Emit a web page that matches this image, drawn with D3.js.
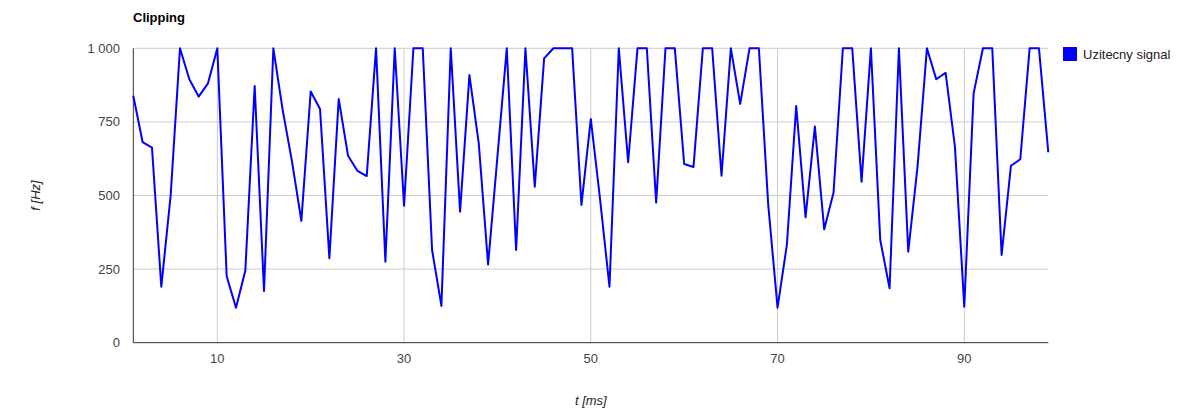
<!DOCTYPE html>
<html><head><meta charset="utf-8">
<script src="https://cdn.jsdelivr.net/npm/d3@7"></script>
<style>
body{margin:0;background:#fff;}
svg{font-family:Arial,"Liberation Sans",sans-serif;}
</style></head>
<body><svg id="chart" width="1183" height="410"></svg>
<script>
const xValues = d3.range(1, 100);
const signal = [839,681,663,190,500,1000,895,836,881,1000,
226,119,245,872,176,1000,790,615,414,853,
794,287,828,635,584,566,1000,275,1000,465,
1000,1000,315,125,1000,445,909,677,266,632,
1000,315,1000,530,966,1000,1000,1000,468,760,
485,190,1000,613,1000,1000,476,1000,1000,607,
597,1000,1000,567,1000,811,1000,1000,470,119,
332,804,426,734,385,510,1000,1000,547,1000,
349,185,1000,309,600,1000,895,917,666,122,
847,1000,1000,298,601,623,1000,1000,647];
const xTicks = [10,30,50,70,90];
const yTicks = [0,250,500,750,1000];
const title = "Clipping";
const seriesName = "Uzitecny signal";
const xTitle = "t [ms]";
const yTitle = "f [Hz]";

const svg = d3.select("#chart");
const mL = 133.3, mR = 1048.3, mT = 48.3, mB = 342.7;
const x = d3.scaleLinear().domain([1, 99]).range([mL, mR]);
const y = d3.scaleLinear().domain([0, 1000]).range([mB, mT]);
const fmt = d3.formatLocale({decimal:",", thousands:"\u00a0", grouping:[3], currency:["",""]}).format(",d");

// gridlines
svg.append("g").selectAll("line").data(yTicks.filter(d=>d>0)).join("line")
  .attr("x1", mL).attr("x2", mR).attr("y1", d=>y(d)).attr("y2", d=>y(d))
  .attr("stroke", "#cccccc").attr("stroke-width", 1);
svg.append("g").selectAll("line").data(xTicks).join("line")
  .attr("x1", d=>x(d)).attr("x2", d=>x(d)).attr("y1", mT).attr("y2", mB)
  .attr("stroke", "#cccccc").attr("stroke-width", 1);

// axes lines
svg.append("line").attr("x1", mL).attr("x2", mR).attr("y1", mB).attr("y2", mB)
  .attr("stroke", "#333").attr("stroke-width", 1);
svg.append("line").attr("x1", mL).attr("x2", mL).attr("y1", mT).attr("y2", mB)
  .attr("stroke", "#333").attr("stroke-width", 1);

// y labels
svg.append("g").selectAll("text").data(yTicks).join("text")
  .attr("x", 120).attr("y", d=>y(d)).attr("dy", "0.35em")
  .attr("text-anchor", "end").attr("font-size", 13).attr("fill", "#444")
  .text(d=>fmt(d));
// x labels
svg.append("g").selectAll("text").data(xTicks).join("text")
  .attr("x", d=>x(d)).attr("y", 363)
  .attr("text-anchor", "middle").attr("font-size", 13).attr("fill", "#444")
  .text(d=>d);

// line
const line = d3.line().x((d,i)=>x(xValues[i])).y(d=>y(d));
svg.append("path").datum(signal).attr("d", line)
  .attr("fill", "none").attr("stroke", "#0000ff").attr("stroke-width", 2)
  .attr("stroke-linejoin", "round");

// title
svg.append("text").attr("x", 133).attr("y", 22).attr("font-size", 13)
  .attr("font-weight", "bold").attr("fill", "#000").text(title);

// axis titles
svg.append("text").attr("x", (mL+mR)/2).attr("y", 405).attr("text-anchor", "middle")
  .attr("font-size", 13).attr("font-style", "italic").attr("fill", "#222").text(xTitle);
svg.append("text").attr("transform", `translate(40,${(mT+mB)/2}) rotate(-90)`)
  .attr("text-anchor", "middle").attr("font-size", 13).attr("font-style", "italic")
  .attr("fill", "#222").text(yTitle);

// legend
svg.append("rect").attr("x", 1063).attr("y", 47).attr("width", 14).attr("height", 14).attr("fill", "#0000ff");
svg.append("text").attr("x", 1083).attr("y", 59).attr("font-size", 13).attr("fill", "#222").text(seriesName);
</script></body></html>
